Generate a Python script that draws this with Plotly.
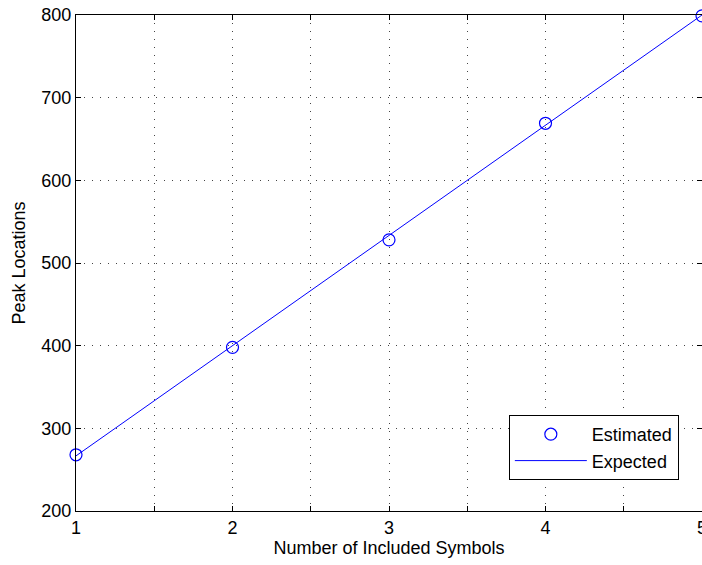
import plotly.graph_objects as go

symbols = [1, 2, 3, 4, 5]
estimated = [268, 398, 528, 669, 799]
expected = [266.67, 400, 533.33, 666.67, 800]
x_tickvals = [1, 1.5, 2, 2.5, 3, 3.5, 4, 4.5, 5]
x_ticktext = ["1", "", "2", "", "3", "", "4", "", "5"]
y_tickvals = [200, 300, 400, 500, 600, 700, 800]

FONT = "Liberation Sans, Arial, Helvetica, sans-serif"
FS = 18

fig = go.Figure()
fig.add_trace(go.Scatter(
    x=symbols, y=estimated, mode="markers", name="Estimated",
    marker=dict(symbol="circle-open", size=12, color="#0000ff", line=dict(width=1.2, color="#0000ff")),
    cliponaxis=False,
))
fig.add_trace(go.Scatter(
    x=symbols, y=expected, mode="lines", name="Expected",
    line=dict(color="#0000ff", width=1),
))

axis_common = dict(
    showline=True, linecolor="black", linewidth=1,
    ticks="inside", ticklen=5, tickcolor="black", tickwidth=1,
    mirror="ticks", showgrid=True, gridcolor="#444444", griddash="1px,7px", gridwidth=1,
    zeroline=False, tickfont=dict(family=FONT, size=FS, color="black"),
    ticklabeloverflow="allow",
)

fig.update_layout(
    width=702, height=565,
    margin=dict(l=76, r=0, t=15, b=54, autoexpand=False),
    paper_bgcolor="white", plot_bgcolor="white",
    showlegend=True,
    legend=dict(
        x=0.963, y=0.0625, xanchor="right", yanchor="bottom",
        bgcolor="white", bordercolor="black", borderwidth=1,
        font=dict(family=FONT, size=FS, color="black"),
        tracegroupgap=0, itemwidth=72,
    ),
    xaxis=dict(
        range=[1, 5], tickmode="array", tickvals=x_tickvals, ticktext=x_ticktext,
        title=dict(text="Number of Included Symbols", font=dict(family=FONT, size=FS, color="black"), standoff=0),
        automargin=False,
        **axis_common,
    ),
    yaxis=dict(
        range=[200, 800], tickmode="array", tickvals=y_tickvals,
        title=dict(text="Peak Locations", font=dict(family=FONT, size=FS, color="black"), standoff=11),
        automargin=False,
        **axis_common,
    ),
)

fig.write_html(
    "out.html",
    config={"displayModeBar": False},
    post_script="document.body.style.margin='0';document.body.style.overflow='hidden';",
)
